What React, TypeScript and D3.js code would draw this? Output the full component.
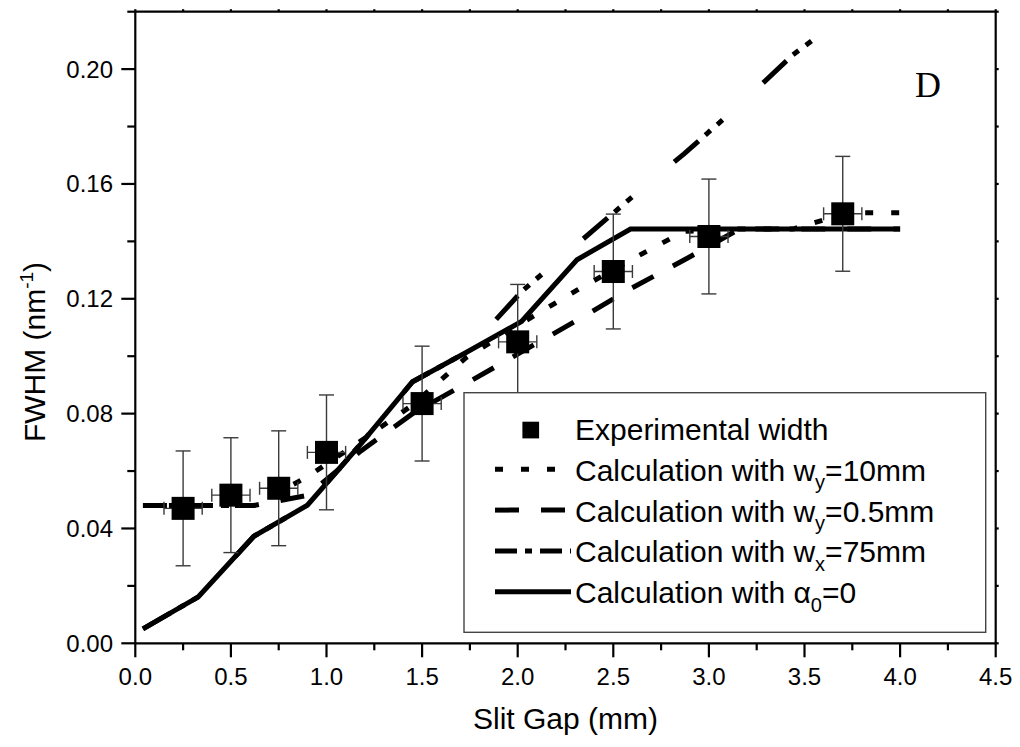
import React from "react";
import * as d3 from "d3";

const expX = [0.25, 0.5, 0.75, 1.0, 1.5, 2.0, 2.5, 3.0, 3.7];
const expY = [0.047, 0.0516, 0.054, 0.0665, 0.0835, 0.105, 0.1295, 0.1417, 0.1496];
const expYErr = [0.02, 0.02, 0.02, 0.02, 0.02, 0.02, 0.02, 0.02, 0.02];
const expXErr = [0.1, 0.1, 0.1, 0.1, 0.1, 0.1, 0.1, 0.1, 0.1];

const calcX = [0.04, 0.33, 0.62, 0.9, 1.18, 1.45, 1.73, 2.02, 2.31, 2.59, 2.87, 3.16, 3.44, 3.73, 4.0];
const calcWy10 = [0.048, 0.048, 0.048, 0.058, 0.0705, 0.083, 0.0995, 0.1115, 0.123, 0.1335, 0.1435, 0.1443, 0.1443, 0.15, 0.15];
const calcWy05 = [0.048, 0.048, 0.048, 0.0515, 0.067, 0.08, 0.0905, 0.1015, 0.1125, 0.1235, 0.1335, 0.1443, 0.1443, 0.1443, 0.1443];
const calcWx75 = [0.005, 0.0162, 0.0373, 0.0481, 0.0695, 0.0911, 0.1013, 0.1225, 0.139, 0.155, 0.1705, 0.1875, 0.205, 0.2195, 0.235];
const calcAlpha0 = [0.005, 0.0162, 0.0373, 0.0481, 0.0695, 0.0911, 0.1013, 0.1121, 0.1336, 0.1443, 0.1443, 0.1443, 0.1443, 0.1443, 0.1443];

const xMajor = [0, 0.5, 1.0, 1.5, 2.0, 2.5, 3.0, 3.5, 4.0, 4.5];
const xMinor = [0.25, 0.75, 1.25, 1.75, 2.25, 2.75, 3.25, 3.75, 4.25];
const yMajor = [0, 0.04, 0.08, 0.12, 0.16, 0.2];
const yMinor = [0.02, 0.06, 0.1, 0.14, 0.18, 0.22];

const FONT = "'Liberation Sans', Arial, sans-serif";

export default function App() {
  const L = 135.3, R = 995.7, T = 11.7, B = 643.3;
  const x = d3.scaleLinear().domain([0, 4.5]).range([L, R]);
  const y = d3.scaleLinear().domain([0, 0.22]).range([B, T]);
  const line = d3.line<number>().x((_, i) => x(calcX[i])).y((d) => y(d));

  const series = [
    { vals: calcWx75, dash: "32 9 7 9 7 55" },
    { vals: calcWy05, dash: "24 22" },
    { vals: calcWy10, dash: "8 18" },
    { vals: calcAlpha0, dash: "none" },
  ];

  const legendRows = [
    { kind: "sq", dash: "", main: "Experimental width", sym: "", sub: "", rest: "" },
    { kind: "ln", dash: "8 18", main: "Calculation with w", sym: "", sub: "y", rest: "=10mm" },
    { kind: "ln", dash: "24 22", main: "Calculation with w", sym: "", sub: "y", rest: "=0.5mm" },
    { kind: "ln", dash: "22 8 7 8", main: "Calculation with w", sym: "", sub: "x", rest: "=75mm" },
    { kind: "ln", dash: "none", main: "Calculation with ", sym: "α", sub: "0", rest: "=0" },
  ];

  const axisW = 2.2;
  const errColor = "#3a3a3a";

  return (
    <svg width={1020} height={747} style={{ position: "absolute", left: 0, top: 0, background: "#fff" }}>
      <defs>
        <clipPath id="plotclip">
          <rect x={L} y={T} width={R - L} height={B - T} />
        </clipPath>
      </defs>
      <rect x={0} y={0} width={1020} height={747} fill="#fff" />

      {/* calculation lines */}
      <g clipPath="url(#plotclip)" fill="none" stroke="#000" strokeWidth={5}>
        {series.map((s, i) => (
          <path key={i} d={line(s.vals) || ""} strokeDasharray={s.dash} strokeLinejoin="miter" strokeLinecap="butt" />
        ))}
      </g>

      {/* error bars */}
      <g stroke={errColor} strokeWidth={1.4}>
        {expX.map((v, i) => {
          const cx = x(v), cy = y(expY[i]);
          const y1 = y(expY[i] + expYErr[i]), y2 = y(expY[i] - expYErr[i]);
          const x1 = x(v - expXErr[i]), x2 = x(v + expXErr[i]);
          return (
            <g key={i}>
              <line x1={cx} x2={cx} y1={y1} y2={y2} />
              <line x1={cx - 7.5} x2={cx + 7.5} y1={y1} y2={y1} />
              <line x1={cx - 7.5} x2={cx + 7.5} y1={y2} y2={y2} />
              <line x1={x1} x2={x2} y1={cy} y2={cy} />
              <line x1={x1} x2={x1} y1={cy - 6.5} y2={cy + 6.5} />
              <line x1={x2} x2={x2} y1={cy - 6.5} y2={cy + 6.5} />
            </g>
          );
        })}
      </g>

      {/* squares */}
      <g fill="#000">
        {expX.map((v, i) => (
          <rect key={i} x={x(v) - 11.5} y={y(expY[i]) - 11.5} width={23} height={23} />
        ))}
      </g>

      {/* axes frame */}
      <g stroke="#000" strokeWidth={axisW} fill="none">
        <line x1={L} x2={R} y1={B} y2={B} />
        <line x1={L} x2={R} y1={T} y2={T} />
        <line x1={L} x2={L} y1={T} y2={B} />
        <line x1={R} x2={R} y1={T} y2={B} />
        {xMajor.map((v) => (
          <line key={"xM" + v} x1={x(v)} x2={x(v)} y1={B} y2={B + 14} />
        ))}
        {xMinor.map((v) => (
          <line key={"xm" + v} x1={x(v)} x2={x(v)} y1={B} y2={B + 7} />
        ))}
        {yMajor.map((v) => (
          <line key={"yM" + v} x1={L - 14} x2={L} y1={y(v)} y2={y(v)} />
        ))}
        {yMinor.map((v) => (
          <line key={"ym" + v} x1={L - 8} x2={L} y1={y(v)} y2={y(v)} />
        ))}
        {xMajor.concat(xMinor).map((v) => (
          <line key={"xt" + v} x1={x(v)} x2={x(v)} y1={T} y2={T - 2.5} />
        ))}
        {yMajor.concat(yMinor).map((v) => (
          <line key={"yr" + v} x1={R} x2={R + 3} y1={y(v)} y2={y(v)} />
        ))}
      </g>

      {/* tick labels */}
      <g fontFamily={FONT} fontSize={24} fill="#000">
        {xMajor.map((v) => (
          <text key={"xl" + v} x={x(v)} y={685} textAnchor="middle">
            {v.toFixed(1)}
          </text>
        ))}
        {yMajor.map((v) => (
          <text key={"yl" + v} x={113} y={y(v) + 8.5} textAnchor="end">
            {v.toFixed(2)}
          </text>
        ))}
      </g>

      {/* axis titles */}
      <text x={(L + R) / 2} y={729} textAnchor="middle" fontFamily={FONT} fontSize={30}>
        Slit Gap (mm)
      </text>
      <text transform="translate(45,352) rotate(-90)" textAnchor="middle" fontFamily={FONT} fontSize={30}>
        FWHM (nm
        <tspan fontSize={19} dy={-12}>-1</tspan>
        <tspan dy={12}>)</tspan>
      </text>

      {/* panel label */}
      <text x={915} y={96.5} fontFamily="'Liberation Serif', 'Times New Roman', serif" fontSize={36}>
        D
      </text>

      {/* legend */}
      <g>
        <rect x={464} y={392.7} width={521.7} height={239.6} fill="#fff" stroke="#444" strokeWidth={1.4} />
        {legendRows.map((r, i) => {
          const base = 440 + i * 40.8;
          return (
            <g key={i}>
              {r.kind === "sq" ? (
                <rect x={522.4} y={base - 18.3} width={16.7} height={16.7} fill="#000" />
              ) : (
                <line x1={495} x2={571} y1={base - 11.5} y2={base - 11.5} stroke="#000" strokeWidth={5} strokeDasharray={r.dash} />
              )}
              <text x={575} y={base} fontFamily={FONT} fontSize={30} fill="#000">
                {r.main}
                {r.sym ? <tspan>{r.sym}</tspan> : null}
                {r.sub ? <tspan fontSize={20} dy={8.5}>{r.sub}</tspan> : null}
                {r.rest ? <tspan dy={r.sub ? -8.5 : 0}>{r.rest}</tspan> : null}
              </text>
            </g>
          );
        })}
      </g>
    </svg>
  );
}
